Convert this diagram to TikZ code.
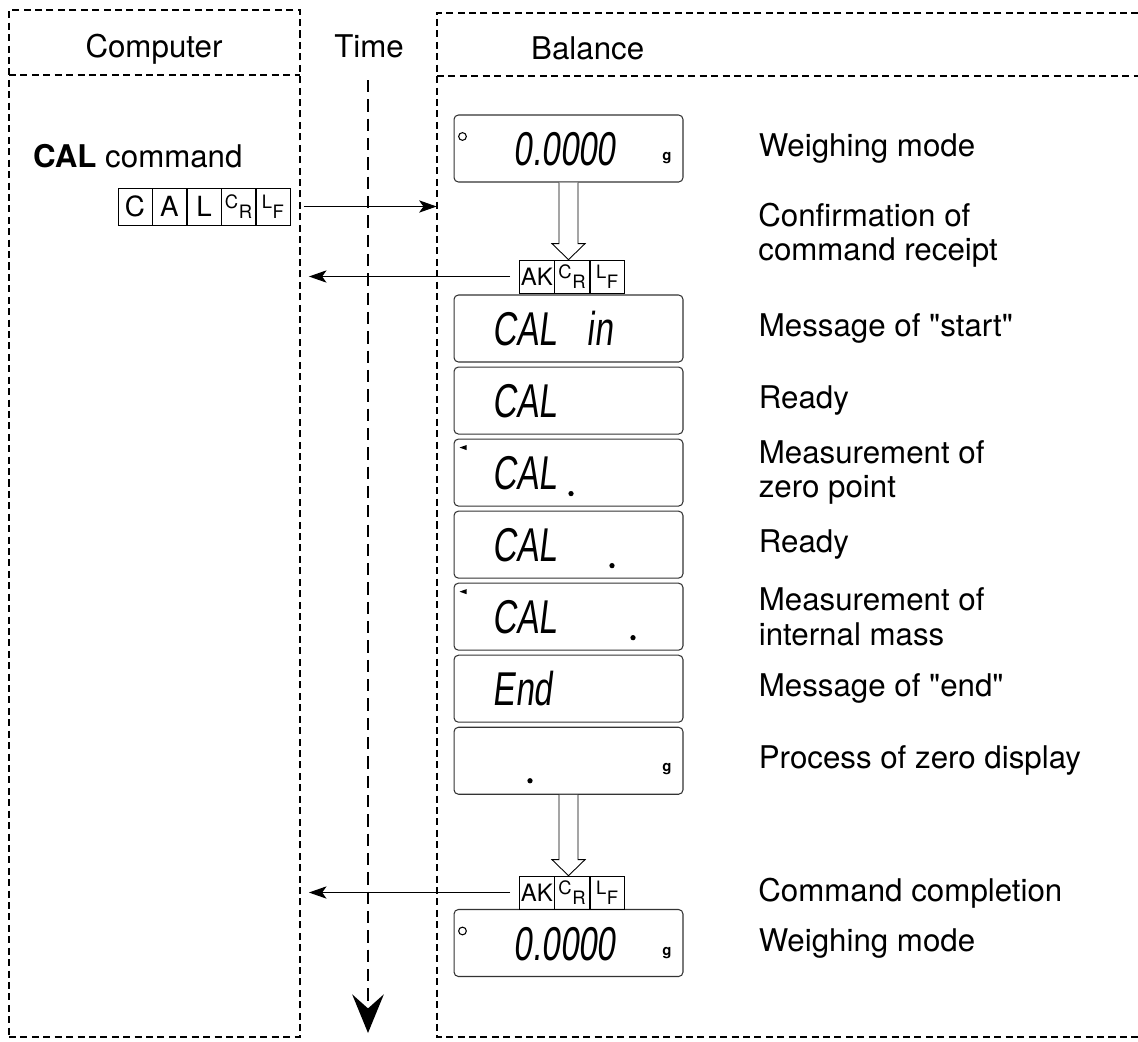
\documentclass[tikz,border=0pt]{standalone}
\usepackage{fontspec}
\setmainfont{TeX Gyre Heros}[Ligatures=TeXOff]
\newfontfamily\segfont[FakeStretch=0.7,FakeSlant=0.12]{Liberation Sans}
\usepackage{tikz}
\usetikzlibrary{arrows.meta, positioning, calc, fit}

\tikzset{
  lane/.style={line width=1.1pt, dash pattern=on 4pt off 2.5pt},
  timeline/.style={line width=0.9pt, dash pattern=on 7pt off 4pt,
    -{Stealth[length=22pt,width=18pt,inset=8pt]}},
  msg/.style={line width=0.6pt, -{Stealth[length=10pt,width=7pt,inset=2.5pt]}},
  head/.style={font=\fontsize{17.8}{19.5}\selectfont},
  lbl/.style={inner sep=0pt, align=left, font=\fontsize{17.8}{19.5}\selectfont},
  lcd/.style={draw=black!80, line width=0.6pt, rounded corners=2.5pt,
    minimum width=4.58cm, minimum height=1.34cm, inner sep=0pt},
  seg/.style={inner sep=0pt, anchor=base west, font=\segfont\fontsize{27}{27}\selectfont},
  unit/.style={inner sep=0pt, font=\bfseries\fontsize{8.5}{9}\selectfont},
  cell/.style={draw, line width=0.4pt, inner sep=0pt, minimum width=0.69cm,
    minimum height=0.66cm, font=\fontsize{13.6}{14}\selectfont},
  calcell/.style={cell, minimum width=0.676cm, minimum height=0.74cm,
    font=\fontsize{15.8}{16}\selectfont},
  hollow/.style={draw, fill=white, line width=0.5pt}
}

% small letter pair as in CR / LF
\newcommand{\subpair}[2]{{\fontsize{10.5}{11}\selectfont\raisebox{3pt}{#1}\kern0.3pt\raisebox{-2.5pt}{#2}}}

% open arrow from one display down to the reply cells
\newcommand{\hollowdown}[2]{%
  \draw[hollow] ($(#1.south)+(-9.5,0)$) -- ($(#1.south |- #2.north)+(-9.5,-16)$)
    -- ($(#1.south |- #2.north)+(-16.5,-16)$) -- (#1.south |- #2.north)
    -- ($(#1.south |- #2.north)+(16.5,-16)$) -- ($(#1.south |- #2.north)+(9.5,-16)$)
    -- ($(#1.south)+(9.5,0)$);}

\begin{document}
\begin{tikzpicture}[x=0.02cm, y=-0.02cm]
\useasboundingbox (0,0) rectangle (1138,1041);

% lanes
\node[lane, draw, fit={(9,10) (300,1037)}, inner sep=0pt] (comp) {};
\node[fit={(437,13) (1138,1037)}, inner sep=0pt] (bal) {};
\draw[lane] (bal.north east) -- (bal.north west) -- (bal.south west) -- (bal.south east);
\draw[lane] (9,75) -- (300,75);
\draw[lane] (437,76) -- (1138,76);

\node[head, anchor=base] (hcomp) at (154,57) {Computer};
\node[head, anchor=base] (htime) at (369,57) {Time};
\node[head, anchor=base west] (hbal) at (525,59) {Balance};

% time axis
\coordinate (ttop) at (368,80);
\coordinate (tend) at (368,1033);
\draw[timeline] (ttop) -- (tend);

% computer side
\node[head, anchor=base west] (calcmd) at (27,167) {\textbf{CAL} command};
\node[calcell] (c1) at (135,206.5) {C};
\node[calcell, right=0pt of c1] (c2) {A};
\node[calcell, right=0pt of c2] (c3) {L};
\node[calcell, right=0pt of c3] (c4) {\subpair{C}{R}};
\node[calcell, right=0pt of c4] (c5) {\subpair{L}{F}};

% balance displays
\node[lcd] (d1) at (568.5,148.5) {};
\node[lcd] (d2) at (568.5,328.5) {};
\node[lcd, below=0.08cm of d2] (d3) {};
\node[lcd, below=0.08cm of d3] (d4) {};
\node[lcd, below=0.08cm of d4] (d5) {};
\node[lcd, below=0.08cm of d5] (d6) {};
\node[lcd, below=0.08cm of d6] (d7) {};
\node[lcd, below=0.08cm of d7] (d8) {};
\node[lcd] (d9) at (568.5,943) {};

% reply cells
\node[cell] (ak1b) at (572,276.5) {\subpair{C}{R}};
\node[cell, left=0pt of ak1b] (ak1a) {AK};
\node[cell, right=0pt of ak1b] (ak1c) {\subpair{L}{F}};
\node[cell] (ak2b) at (572,892.5) {\subpair{C}{R}};
\node[cell, left=0pt of ak2b] (ak2a) {AK};
\node[cell, right=0pt of ak2b] (ak2c) {\subpair{L}{F}};

% display contents
\node[seg] (d1v) at ($(d1.west)+(60,17)$) {0.0000};
\draw[line width=0.6pt] ($(d1.north west)+(9,22)$) circle[radius=2.2pt];
\node[unit] (d1g) at ($(d1.center)+(98.5,10)$) {g};
\node[seg] (d2a) at ($(d2.west)+(39,17)$) {CAL};
\node[seg] (d2b) at ($(d2.west)+(133,17)$) {in};
\node[seg] (d3a) at ($(d3.west)+(39,17)$) {CAL};
\node[seg] (d4a) at ($(d4.west)+(39,17)$) {CAL};
\fill ($(d4.north west)+(6,9)$) -- ++(7,-2.5) -- ++(0,5) -- cycle;
\fill ($(d4.center)+(2.5,21)$) circle[radius=1.5pt];
\node[seg] (d5a) at ($(d5.west)+(39,17)$) {CAL};
\fill ($(d5.center)+(43.5,21)$) circle[radius=1.5pt];
\node[seg] (d6a) at ($(d6.west)+(39,17)$) {CAL};
\fill ($(d6.north west)+(6,9)$) -- ++(7,-2.5) -- ++(0,5) -- cycle;
\fill ($(d6.center)+(64.5,21)$) circle[radius=1.5pt];
\node[seg] (d7a) at ($(d7.west)+(39,17)$) {End};
\fill ($(d8.center)+(-38.5,20)$) circle[radius=1.5pt];
\node[unit] (d8g) at ($(d8.center)+(98.5,8)$) {g};
\node[seg] (d9v) at ($(d9.west)+(60,17)$) {0.0000};
\draw[line width=0.6pt] ($(d9.north west)+(9,22)$) circle[radius=2.2pt];
\node[unit] (d9g) at ($(d9.center)+(98.5,10)$) {g};

\hollowdown{d1}{ak1b}
\hollowdown{d8}{ak2b}

% messages
\draw[msg, shorten <=0.06cm] (c5.east -| comp.east) -- (c5.east -| bal.west);
\draw[msg, shorten <=0.18cm, shorten >=0.16cm] (ak1a.west) -- (ak1a.west -| comp.east);
\draw[msg, shorten <=0.18cm, shorten >=0.16cm] (ak2a.west) -- (ak2a.west -| comp.east);

% labels
\node[lbl, right=1.5cm of d1] (l1) {Weighing mode};
\node[lbl, anchor=west] (l2) at (758,235) {Confirmation of\\command receipt};
\node[lbl, right=1.5cm of d2] (l3) {Message of "start"};
\node[lbl, right=1.5cm of d3] (l4) {Ready};
\node[lbl, right=1.5cm of d4] (l5) {Measurement of\\zero point};
\node[lbl, right=1.5cm of d5] (l6) {Ready};
\node[lbl, right=1.5cm of d6] (l7) {Measurement of\\internal mass};
\node[lbl, right=1.5cm of d7] (l8) {Message of "end"};
\node[lbl, right=1.5cm of d8] (l9) {Process of zero display};
\node[lbl, anchor=west] (l10) at (758,893) {Command completion};
\node[lbl, right=1.5cm of d9] (l11) {Weighing mode};
\end{tikzpicture}
\end{document}
